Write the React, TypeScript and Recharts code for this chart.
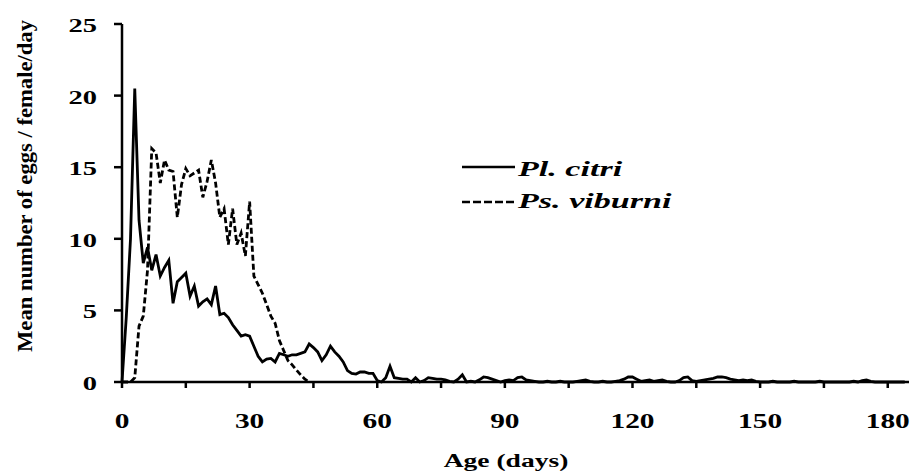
import { Label, Line, LineChart, XAxis, YAxis } from 'recharts';

// Daily fecundity (mean eggs / female / day), day 0 .. 184
const citri = [
  0, 4.5, 10, 20.5, 11.3, 8.3, 9.4, 7.8, 8.9, 7.4,
  8.0, 8.5, 5.5, 7.0, 7.3, 7.6, 6.0, 6.7, 5.3, 5.6,
  5.8, 5.4, 6.7, 4.7, 4.8, 4.5, 4.0, 3.6, 3.2, 3.3,
  3.2, 2.5, 1.8, 1.4, 1.6, 1.65, 1.4, 2.0, 1.9, 1.8,
  1.9, 1.9, 2.0, 2.1, 2.65, 2.4, 2.1, 1.5, 1.9, 2.5,
  2.1, 1.8, 1.4, 0.8, 0.6, 0.55, 0.7, 0.7, 0.6, 0.6,
  0.1, 0, 0.3, 1.1, 0.3, 0.25, 0.2, 0.2, 0, 0.3,
  0, 0.1, 0.3, 0.25, 0.2, 0.2, 0.15, 0.05, 0, 0.2,
  0.5, 0, 0.05, 0, 0.15, 0.35, 0.3, 0.2, 0.1, 0,
  0.1, 0.15, 0.1, 0.3, 0.35, 0.15, 0.1, 0.05, 0, 0,
  0.05, 0, 0, 0.05, 0, 0, 0, 0.05, 0.1, 0.15,
  0.05, 0, 0, 0.05, 0, 0, 0.05, 0.1, 0.2, 0.35,
  0.35, 0.2, 0.05, 0.1, 0.15, 0.05, 0.1, 0.15, 0.05, 0,
  0, 0.1, 0.3, 0.35, 0.1, 0.05, 0.1, 0.15, 0.2, 0.25,
  0.35, 0.35, 0.3, 0.2, 0.15, 0.1, 0.15, 0.1, 0.15, 0.05,
  0, 0, 0, 0.05, 0, 0, 0, 0, 0.05, 0,
  0, 0, 0, 0, 0.05, 0, 0, 0, 0, 0,
  0, 0, 0.05, 0, 0.1, 0.15, 0.05, 0, 0, 0,
  0, 0, 0, 0, 0,
];

// Ps. viburni stops laying around day 44
const viburni = [
  0, 0, 0, 0.3, 3.9, 4.6, 7.8, 16.3, 16.0, 13.9,
  15.5, 14.8, 14.7, 11.5, 13.8, 14.9, 14.4, 14.6, 14.8, 12.9,
  14.0, 15.5, 13.9, 11.5, 12.1, 9.6, 12.1, 9.6, 10.4, 8.8,
  12.6, 7.4, 6.8, 6.2, 5.4, 4.6, 4.1, 2.9, 2.2, 1.5,
  1.2, 0.84, 0.5, 0.2, 0,
];

const xTicks = [0, 15, 30, 45, 60, 75, 90, 105, 120, 135, 150, 165, 180];
const yTicks = [0, 5, 10, 15, 20, 25];

const data = citri.map((v, i) => ({
  day: i,
  citri: v,
  viburni: i < viburni.length ? viburni[i] : null,
}));

const FONT = '"Liberation Serif", "Times New Roman", serif';

function XTick(props: any) {
  const { x, payload } = props;
  if (payload.value % 30 !== 0) return <g />;
  return (
    <text
      transform={`translate(${x},428) scale(1.4,1)`}
      textAnchor="middle"
      fontFamily={FONT}
      fontWeight="bold"
      fontSize={21}
      fill="#000"
    >
      {payload.value}
    </text>
  );
}

function YTick(props: any) {
  const { y, payload } = props;
  return (
    <text
      transform={`translate(97,${y + 8}) scale(1.5,1)`}
      textAnchor="end"
      fontFamily={FONT}
      fontWeight="bold"
      fontSize={19}
      fill="#000"
    >
      {payload.value}
    </text>
  );
}

export default function App() {
  return (
    <div style={{ position: 'absolute', left: 0, top: 0, width: 912, height: 472, background: '#fff' }}>
      <LineChart width={912} height={472} data={data} margin={{ top: 24, right: 3, bottom: 0, left: 0 }}>
        <XAxis
          dataKey="day"
          type="number"
          domain={[0, 185]}
          ticks={xTicks}
          height={90}
          tickSize={6}
          tick={<XTick />}
          axisLine={{ stroke: '#000', strokeWidth: 2.5 }}
          tickLine={{ stroke: '#000', strokeWidth: 2.5 }}
        >
          <Label
            content={() => (
              <text
                transform="translate(506,467) scale(1.45,1)"
                textAnchor="middle"
                fontFamily={FONT}
                fontWeight="bold"
                fontSize={19}
                fill="#000"
              >
                Age (days)
              </text>
            )}
          />
        </XAxis>
        <YAxis
          domain={[0, 25]}
          ticks={yTicks}
          width={122}
          tickSize={8}
          tick={<YTick />}
          axisLine={{ stroke: '#000', strokeWidth: 2.5 }}
          tickLine={{ stroke: '#000', strokeWidth: 2.5 }}
        >
          <Label
            content={() => (
              <text
                transform="translate(32,186) rotate(-90)"
                textAnchor="middle"
                fontFamily={FONT}
                fontWeight="bold"
                fontSize={22}
                textLength={332}
                lengthAdjust="spacingAndGlyphs"
                fill="#000"
              >
                Mean number of eggs / female/day
              </text>
            )}
          />
        </YAxis>
        <Line
          dataKey="citri"
          type="linear"
          stroke="#000"
          strokeWidth={2.8}
          dot={false}
          isAnimationActive={false}
        />
        <Line
          dataKey="viburni"
          type="linear"
          stroke="#000"
          strokeWidth={2.8}
          strokeDasharray="6 3"
          dot={false}
          isAnimationActive={false}
        />
      </LineChart>
      <svg
        width={300}
        height={70}
        style={{ position: 'absolute', left: 440, top: 150 }}
      >
        <line x1={22} y1={17} x2={75} y2={17} stroke="#000" strokeWidth={2.5} />
        <text
          transform="translate(78,26) scale(1.55,1)"
          fontFamily={FONT}
          fontWeight="bold"
          fontStyle="italic"
          fontSize={22}
          fill="#000"
        >
          Pl. citri
        </text>
        <line x1={22} y1={52} x2={75} y2={52} stroke="#000" strokeWidth={2.5} strokeDasharray="8 3" />
        <text
          transform="translate(78,58) scale(1.55,1)"
          fontFamily={FONT}
          fontWeight="bold"
          fontStyle="italic"
          fontSize={22}
          fill="#000"
        >
          Ps. viburni
        </text>
      </svg>
    </div>
  );
}
